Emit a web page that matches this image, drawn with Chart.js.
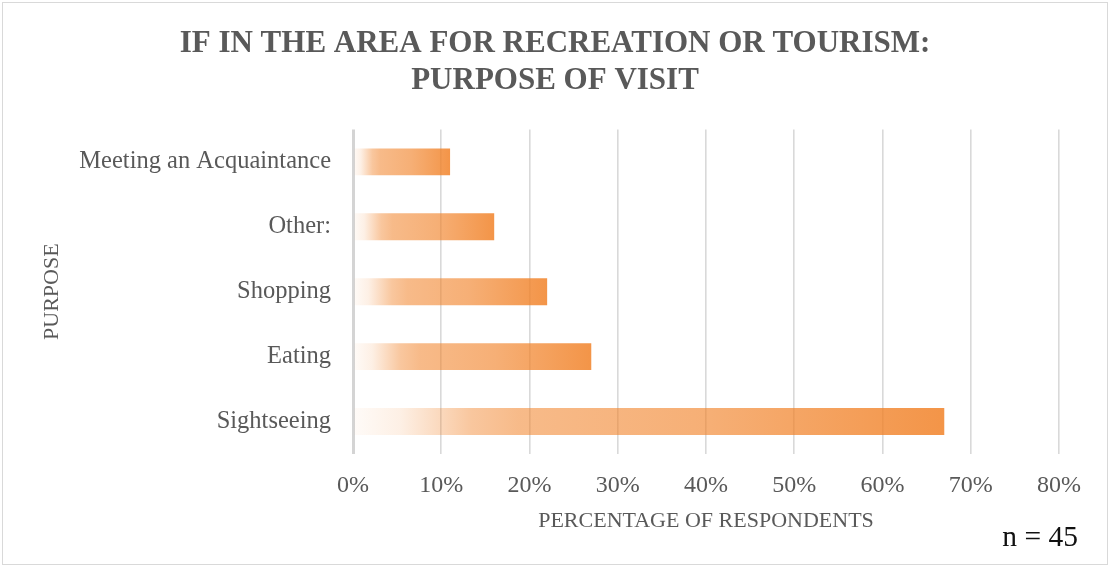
<!DOCTYPE html>
<html>
<head>
<meta charset="utf-8">
<script src="https://cdn.jsdelivr.net/npm/chart.js@4.4.1/dist/chart.umd.min.js"></script>
<style>
  html, body { margin: 0; padding: 0; background: #ffffff; }
  #wrap { width: 1110px; height: 567px; position: relative; }
</style>
</head>
<body>
<div id="wrap"><canvas id="chart" width="1110" height="567"></canvas></div>
<script>
// Purposes of visit and share of respondents, in percent (n = 45)
const categories = ['Meeting an Acquaintance', 'Other:', 'Shopping', 'Eating', 'Sightseeing'];
const shares = [11, 16, 22, 27, 67];
const xTicks = [0, 10, 20, 30, 40, 50, 60, 70, 80];
const titleLines = ['IF IN THE AREA FOR RECREATION OR TOURISM:', 'PURPOSE OF VISIT'];
const xTitle = 'PERCENTAGE OF RESPONDENTS';
const yTitle = 'PURPOSE';
const sampleNote = 'n = 45';

const SERIF = "'Liberation Serif', 'DejaVu Serif', serif";
const GREY = '#595959';

// Horizontal gradient that runs from the base to the tip of each bar
function barFill(ctx) {
  const chart = ctx.chart;
  const xs = chart.scales.x;
  if (!chart.chartArea || !xs || ctx.dataIndex === undefined) return 'rgba(241,130,40,0.6)';
  const x0 = xs.getPixelForValue(0);
  const x1 = xs.getPixelForValue(ctx.raw);
  if (!isFinite(x0) || !isFinite(x1) || x1 - x0 < 1) return 'rgba(241,130,40,0.6)';
  const g = chart.ctx.createLinearGradient(x0, 0, x1, 0);
  g.addColorStop(0.00, 'rgba(241,130,40,0.03)');
  g.addColorStop(0.08, 'rgba(241,130,40,0.12)');
  g.addColorStop(0.20, 'rgba(241,130,40,0.45)');
  g.addColorStop(0.28, 'rgba(241,130,40,0.55)');
  g.addColorStop(0.60, 'rgba(241,130,40,0.64)');
  g.addColorStop(1.00, 'rgba(241,130,40,0.85)');
  return g;
}

// Frame around the whole chart and the sample-size note
const decorations = {
  id: 'decorations',
  beforeDraw(chart) {
    const c = chart.ctx;
    c.save();
    c.fillStyle = '#ffffff';
    c.fillRect(0, 0, chart.width, chart.height);
    c.strokeStyle = '#d9d9d9';
    c.lineWidth = 1;
    c.strokeRect(2.5, 2.5, chart.width - 5, chart.height - 5);
    c.restore();
  },
  afterDraw(chart) {
    const c = chart.ctx;
    c.save();
    c.font = "29.5px " + SERIF;
    c.fillStyle = '#111111';
    c.textAlign = 'right';
    c.textBaseline = 'middle';
    c.fillText(sampleNote, 1078, 538);
    c.restore();
  }
};

new Chart(document.getElementById('chart'), {
  type: 'bar',
  data: {
    labels: categories,
    datasets: [{
      data: shares,
      backgroundColor: barFill,
      borderWidth: 0,
      barPercentage: 0.83,
      categoryPercentage: 0.5
    }]
  },
  options: {
    indexAxis: 'y',
    responsive: false,
    animation: false,
    layout: { padding: 0 },
    plugins: {
      legend: { display: false },
      tooltip: { enabled: false },
      title: {
        display: true,
        text: titleLines,
        color: GREY,
        font: { family: SERIF, size: 31, weight: 'bold', lineHeight: 1.2 },
        padding: { top: 25, bottom: 30 }
      }
    },
    scales: {
      x: {
        min: 0,
        max: 80,
        afterBuildTicks(scale) { scale.ticks = xTicks.map(v => ({ value: v })); },
        afterFit(scale) { scale.height = 113; },
        ticks: {
          color: GREY,
          font: { family: SERIF, size: 24 },
          padding: 17,
          callback: v => v + '%'
        },
        grid: {
          drawTicks: false,
          color: ctx => ctx.index === 0 ? '#d4d4d4' : '#d9d9d9',
          lineWidth: ctx => ctx.index === 0 ? 3 : 1.6
        },
        border: { display: false },
        title: {
          display: true,
          text: xTitle,
          color: GREY,
          font: { family: SERIF, size: 22 },
          padding: { top: 0, bottom: 33 }
        }
      },
      y: {
        afterFit(scale) { scale.width = 353; },
        ticks: {
          color: GREY,
          font: { family: SERIF, size: 24.5 },
          padding: 22
        },
        grid: { display: false, drawTicks: false },
        border: { display: false },
        title: {
          display: true,
          text: yTitle,
          color: GREY,
          font: { family: SERIF, size: 22 },
          padding: { top: 39, bottom: 0 }
        }
      },
      // empty margin on the right of the plot
      gutter: {
        type: 'linear',
        position: 'right',
        afterFit(scale) { scale.width = 51; },
        ticks: { display: false },
        grid: { display: false, drawTicks: false },
        border: { display: false }
      }
    }
  },
  plugins: [decorations]
});
</script>
</body>
</html>
